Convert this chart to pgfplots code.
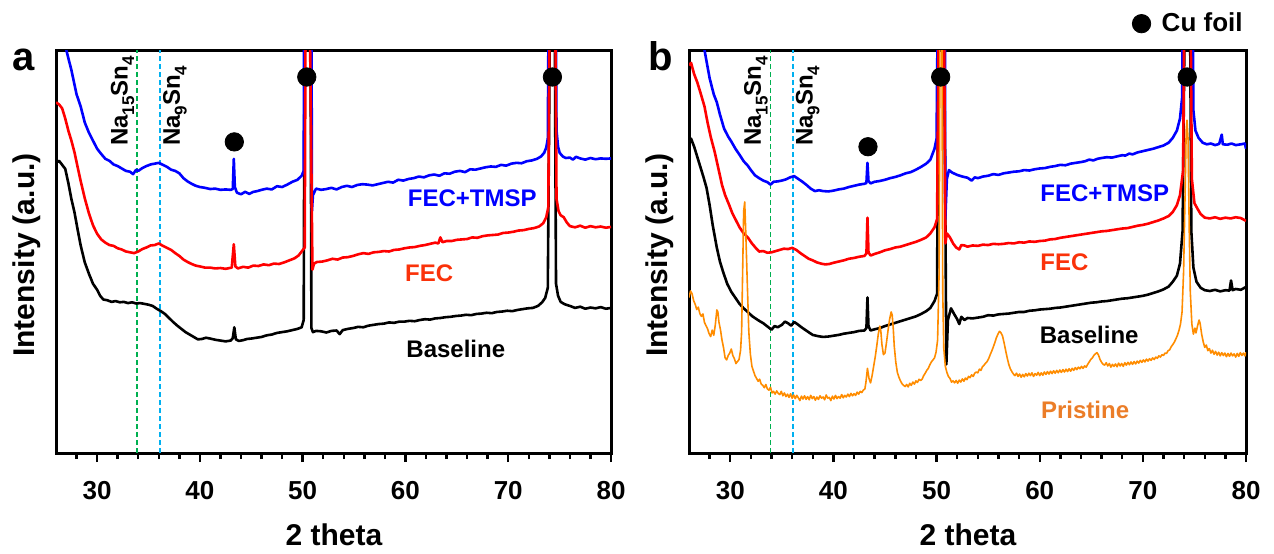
\documentclass[border=0pt]{standalone}
\usepackage{fontspec}
\setmainfont{Liberation Sans}
\usepackage{graphicx}
\usepackage{pgfplots}
\usepackage{pgfplotstable}
\pgfplotsset{compat=1.18}

\definecolor{cblue}{RGB}{0,0,255}
\definecolor{cred}{RGB}{255,0,0}
\definecolor{corange}{RGB}{255,140,0}
\definecolor{lfec}{RGB}{250,50,10}
\definecolor{lpri}{RGB}{235,125,40}
\definecolor{dgreen}{RGB}{0,176,80}
\definecolor{dcyan}{RGB}{0,176,240}

% ---------- panel a ----------
\pgfplotstableread{
x y
26.9 102
27.0 100
27.5 95
28.0 89
28.4 86
28.8 82
29.2 79.5
29.6 77.5
30.0 75.5
30.4 74.2
30.8 73.0
31.2 72.5
31.6 71.6
32.0 71.2
32.4 70.6
32.8 70.0
33.2 69.8
33.5 69.2
33.8 70.3
34.0 70.0
34.4 70.7
34.8 71.2
35.2 71.6
35.6 71.8
36.0 72.0
36.4 71.5
36.8 71.0
37.2 70.3
37.6 70.0
38.0 69.4
38.4 68.2
38.8 67.4
39.2 66.8
39.6 66.3
40.0 66.0
40.5 65.8
41.0 65.5
41.5 65.6
42.0 65.3
42.5 65.4
43.0 65.3
43.2 65.5
43.3 73.0
43.4 66.0
43.6 64.6
44.0 64.2
44.4 64.8
44.8 64.3
45.2 64.8
45.6 65.0
46.0 65.3
46.5 65.6
47.0 65.4
47.5 66.2
48.0 66.0
48.5 66.6
49.0 67.3
49.5 67.8
49.9 68.8
50.1 70
50.15 120
50.85 120
50.9 60
51.0 64
51.3 65.6
51.8 65.3
52.3 65.5
52.8 65.8
53.3 65.4
53.8 66.0
54.3 66.3
54.8 66.0
55.3 66.5
55.8 66.7
56.3 66.6
56.8 66.4
57.3 66.7
57.8 67.0
58.3 67.3
58.8 67.1
59.3 67.8
59.8 67.6
60.3 68.0
60.8 68.2
61.3 68.6
61.8 68.4
62.3 68.9
62.8 69.1
63.3 68.8
63.8 69.4
64.3 69.3
64.8 69.8
65.3 70.0
65.8 69.7
66.3 70.4
66.8 70.3
67.3 70.6
67.8 70.9
68.3 71.1
68.8 71.0
69.3 71.5
69.8 71.3
70.3 71.8
70.8 72.0
71.3 71.9
71.8 72.4
72.3 72.6
72.8 73.0
73.2 73.6
73.5 74.5
73.7 75.8
73.85 78
73.95 120
74.6 120
74.7 80
74.85 76
75.0 74.5
75.3 73.6
75.6 73.2
76.0 73.3
76.3 72.8
76.6 73.5
77.0 73.1
77.5 72.8
78.0 73.2
78.5 72.9
79.0 73.1
79.5 73.0
80.0 73.1
}\ablue

\pgfplotstableread{
x y
26.0 87
26.3 86.5
26.6 85.5
26.9 83
27.2 80
27.5 77.5
27.8 74.6
28.1 71
28.4 67.5
28.8 63.2
29.2 59.5
29.6 56.5
30.0 54.4
30.4 53
30.8 52.2
31.2 51.6
31.6 51.4
32.0 50.8
32.4 50.5
32.8 50.0
33.2 49.8
33.6 49.6
34.0 50.0
34.4 50.6
34.8 51.0
35.2 51.5
35.6 51.6
36.0 52.0
36.4 51.4
36.8 50.9
37.2 50.4
37.6 49.6
38.0 48.9
38.4 48.0
38.8 47.4
39.2 46.9
39.6 46.5
40.0 46.3
40.5 46.0
41.0 46.0
41.5 45.8
42.0 45.9
42.5 45.7
43.1 46.0
43.3 51.8
43.45 46.3
43.7 45.8
44.2 46.2
44.7 46.0
45.2 46.5
45.7 46.4
46.2 46.8
46.7 46.6
47.2 47.0
47.7 46.9
48.2 47.3
48.7 47.8
49.2 48.3
49.6 49.0
49.9 50.0
50.2 51
50.3 120
50.65 120
50.95 45.5
51.1 47.0
51.4 47.4
51.9 47.5
52.4 47.8
52.9 48.2
53.4 48.0
53.9 48.5
54.4 48.6
54.9 48.9
55.4 49.3
55.9 49.6
56.4 49.4
56.9 49.8
57.4 49.9
57.9 50.1
58.4 50.0
58.9 50.4
59.4 50.5
59.9 50.8
60.4 51.0
60.9 51.1
61.4 51.4
61.9 51.6
62.4 51.9
62.9 52.2
63.2 52.0
63.4 53.5
63.6 52.3
64.0 52.6
64.5 52.6
65.0 52.9
65.5 53.0
66.0 53.1
66.5 53.5
67.0 53.4
67.5 53.8
68.0 54.0
68.5 54.1
69.0 54.2
69.5 54.6
70.0 54.7
70.5 54.9
71.0 55.2
71.5 55.3
72.0 55.6
72.5 55.8
73.0 56.2
73.4 57.0
73.7 58.5
73.9 61
74.05 120
74.55 120
74.7 63
74.9 60.0
75.1 59.0
75.4 58.5
75.7 57.2
76.0 56.3
76.5 56.0
77.0 56.4
77.5 55.9
78.0 56.3
78.5 56.0
79.0 56.2
79.5 55.9
80.0 56.1
}\ared

\pgfplotstableread{
x y
26.0 72
26.3 72.5
26.6 71.5
26.9 70.5
27.2 67
27.5 63
27.8 59.7
28.1 55.5
28.4 51.5
28.8 47.3
29.2 44.5
29.6 42.0
30.0 40.5
30.3 39.0
30.6 38.1
31.0 37.9
31.4 37.5
31.8 37.7
32.2 37.4
32.6 37.5
33.0 37.2
33.4 37.4
33.8 37.1
34.2 37.2
34.6 37.0
35.0 36.8
35.4 36.5
35.8 35.8
36.2 35.2
36.6 34.5
37.0 33.5
37.4 32.5
37.8 31.6
38.2 30.8
38.6 30.0
39.0 29.4
39.4 28.8
39.8 28.2
40.2 28.3
40.6 28.6
41.0 28.4
41.5 28.1
42.0 27.9
42.5 27.7
43.0 27.9
43.2 28.5
43.35 31.2
43.5 28.2
43.8 27.8
44.2 28.0
44.6 28.3
45.0 28.4
45.5 28.6
46.0 28.8
46.5 29.2
47.0 29.4
47.5 29.8
48.0 30.0
48.5 30.2
49.0 30.5
49.5 30.8
49.9 31.2
50.1 33
50.2 120
50.75 120
50.85 31
51.0 30.0
51.3 30.3
51.8 30.2
52.3 29.9
52.8 30.3
53.3 30.4
53.6 29.5
53.9 30.5
54.4 30.8
54.9 31.0
55.4 31.3
55.9 31.2
56.4 31.6
56.9 31.8
57.4 32.0
57.9 32.1
58.4 32.4
58.9 32.3
59.4 32.6
59.9 32.6
60.4 32.8
60.9 32.7
61.4 33.0
61.9 33.2
62.4 33.1
62.9 33.4
63.4 33.5
63.9 33.7
64.4 33.8
64.9 34.0
65.4 34.1
65.9 34.3
66.4 34.2
66.9 34.5
67.4 34.6
67.9 34.8
68.4 34.7
68.9 35.0
69.4 35.1
69.9 35.3
70.4 35.2
70.9 35.5
71.4 35.7
71.9 35.9
72.4 36.0
72.9 36.5
73.3 37.4
73.6 38.5
73.85 41
74.1 120
74.5 120
74.65 42
74.85 39
75.1 37.5
75.5 36.9
76.0 36.5
76.5 36.0
77.0 36.3
77.5 35.8
78.0 36.1
78.5 35.9
79.0 36.2
79.5 35.8
80.0 36.0
}\ablack

% ---------- panel b ----------
\pgfplotstableread{
x y
27.4 102
27.5 100
28.0 93
28.4 89
28.7 87
29.0 84
29.4 80.5
29.8 78.5
30.1 77.3
30.5 75.5
30.9 74
31.3 72.4
31.7 71.3
32.0 70.2
32.4 68.9
32.8 68.2
33.2 67.6
33.6 67.2
33.9 66.6
34.2 67.3
34.6 67.4
35.0 67.6
35.4 67.9
35.8 68.4
36.2 68.7
36.6 68.0
37.0 67.3
37.4 66.5
37.8 65.6
38.2 65.0
38.6 65.2
39.0 65.0
39.5 64.9
40.0 65.1
40.5 65.4
41.0 65.6
41.5 66.0
42.0 66.3
42.5 66.6
43.0 66.8
43.2 67.0
43.3 72.0
43.4 67.5
43.6 66.9
44.0 67.3
44.5 67.5
45.0 67.8
45.5 68.2
46.0 68.5
46.5 68.9
47.0 69.4
47.5 69.7
48.0 70.3
48.5 71.0
49.0 71.8
49.4 72.8
49.8 75.5
50.0 78
50.15 120
50.8 120
50.85 58
51.0 68
51.2 70.2
51.5 69.6
52.0 69.0
52.5 68.6
53.0 68.3
53.4 67.6
53.7 68.4
54.0 68.2
54.5 68.6
55.0 68.8
55.5 69.2
56.0 69.0
56.5 69.4
57.0 69.6
57.5 69.8
58.0 69.9
58.5 70.2
59.0 70.1
59.5 70.4
60.0 70.6
60.5 70.7
61.0 71.0
61.5 71.2
62.0 71.5
62.5 71.4
63.0 71.8
63.5 72.0
64.0 72.2
64.4 72.4
64.8 72.8
65.2 72.6
65.6 73.0
66.0 73.2
66.5 73.4
67.0 73.3
67.5 73.6
68.0 73.9
68.3 73.8
68.7 74.3
69.0 74.1
69.5 74.6
70.0 74.9
70.5 75.2
71.0 75.5
71.5 75.9
72.0 76.3
72.5 77.0
72.9 78.2
73.3 80.0
73.6 83
73.8 88
73.92 120
74.8 120
74.9 85
75.1 80
75.4 78.2
75.8 77.0
76.2 76.6
76.6 76.8
77.0 76.4
77.4 76.7
77.65 79.0
77.75 76.6
78.2 76.5
78.6 76.8
79.0 76.4
79.5 76.6
79.9 76.8
80.0 75.5
}\bblue

\pgfplotstableread{
x y
26.0 96.2
26.2 96.8
26.5 94.0
26.8 92
27.1 89.5
27.5 86
27.8 82
28.1 78.5
28.5 74.6
28.9 70
29.2 66.5
29.5 64
29.9 61.5
30.2 59.5
30.5 58
30.9 56.0
31.3 54.5
31.7 53.5
32.1 52
32.5 50.8
32.8 50.0
33.2 50.1
33.6 49.7
34.0 49.8
34.4 50.1
34.8 50.4
35.2 50.7
35.6 50.6
36.0 50.9
36.4 50.4
36.8 49.6
37.2 48.9
37.6 48.2
38.0 47.8
38.4 47.3
38.8 47.0
39.2 46.8
39.6 46.9
40.0 47.2
40.5 47.5
41.0 47.8
41.5 48.2
42.0 48.4
42.5 48.7
43.0 48.9
43.2 49.5
43.3 58.4
43.4 49.8
43.6 49.0
44.0 49.4
44.5 49.8
45.0 50.3
45.5 50.6
46.0 51.0
46.5 51.2
47.0 51.6
47.5 52.0
48.0 52.4
48.5 52.9
49.0 53.5
49.4 54.5
49.8 56.0
50.05 58
50.25 120
50.7 120
50.85 52
51.0 54.5
51.3 53.5
51.6 52.0
51.9 51.0
52.2 50.5
52.4 51.6
52.7 51.5
53.0 51.2
53.5 51.5
54.0 51.4
54.5 51.7
55.0 51.6
55.5 51.9
56.0 51.8
56.5 51.9
57.0 52.1
57.5 52.0
58.0 52.3
58.5 52.2
59.0 52.5
59.5 52.4
60.0 52.6
60.5 52.7
61.0 53.0
61.5 53.1
62.0 53.4
62.5 53.6
63.0 53.8
63.5 54.0
64.0 54.2
64.5 54.4
65.0 54.6
65.5 54.8
66.0 55.0
66.5 55.1
67.0 55.3
67.5 55.5
68.0 55.7
68.5 55.8
69.0 56.1
69.5 56.4
70.0 56.6
70.5 56.9
71.0 57.3
71.5 57.7
72.0 58.2
72.5 58.8
72.9 59.8
73.3 61.5
73.6 64
73.9 70
74.05 120
74.6 120
74.75 68
75.0 62
75.3 60.6
75.6 59.3
76.0 58.4
76.5 58.2
77.0 58.5
77.5 58.1
78.0 58.4
78.5 58.2
79.0 58.5
79.5 58.3
80.0 57.6
}\bred

\pgfplotstableread{
x y
26.0 77.3
26.2 78.0
26.5 76.0
26.8 73.5
27.1 71
27.4 68.5
27.7 65.8
28.0 61.5
28.3 56.5
28.7 50.9
29.0 47.5
29.3 45
29.7 42
30.1 40
30.5 38.5
30.9 37.0
31.3 35.9
31.7 35.0
32.1 34.0
32.5 33.3
32.8 32.8
33.2 32.2
33.6 31.4
34.0 30.6
34.3 31.5
34.6 31.2
35.0 31.8
35.3 32.6
35.6 32.2
35.9 31.6
36.2 32.5
36.5 32.0
36.9 31.2
37.3 30.5
37.7 29.8
38.0 29.3
38.5 29.0
39.0 28.8
39.5 28.9
40.0 29.1
40.5 29.3
41.0 29.6
41.5 29.8
42.0 30.0
42.5 30.3
43.0 30.4
43.2 31.0
43.3 38.6
43.4 31.5
43.6 30.4
44.0 30.7
44.5 31.0
45.0 31.5
45.5 31.9
46.0 32.3
46.5 32.7
47.0 33.1
47.5 33.5
48.0 33.9
48.5 34.5
49.0 35.2
49.4 36.0
49.8 37.7
50.05 39.5
50.2 120
50.75 100
50.95 22
51.1 33
51.4 35.9
51.7 34.5
52.0 33.2
52.2 32.0
52.4 33.8
52.7 33.0
53.0 33.5
53.5 33.4
54.0 33.6
54.5 33.8
55.0 34.2
55.5 34.1
56.0 34.4
56.5 34.5
57.0 34.6
57.5 34.8
58.0 35.0
58.5 35.0
59.0 35.3
59.5 35.4
60.0 35.6
60.5 35.7
61.0 35.8
61.5 36.0
62.0 36.1
62.5 36.3
63.0 36.5
63.5 36.7
64.0 36.9
64.5 37.1
65.0 37.3
65.5 37.4
66.0 37.6
66.5 37.7
67.0 37.9
67.5 38.1
68.0 38.3
68.5 38.4
69.0 38.6
69.5 38.8
70.0 39.0
70.5 39.3
71.0 39.7
71.5 40.1
72.0 40.6
72.5 41.3
72.9 42.5
73.3 44.0
73.6 47
73.85 55
74.1 120
74.55 120
74.7 55
74.9 46
75.2 42.5
75.6 41.0
76.0 40.4
76.5 40.2
77.0 40.5
77.5 40.1
78.0 40.4
78.4 40.3
78.55 42.8
78.7 40.4
79.0 40.7
79.5 40.5
80.0 41.2
}\bblack

\pgfplotstableread{
x y
26.0 38.6
26.15 40.2
26.3 39.5
26.45 37.8
26.6 36.9
26.75 35.6
26.9 36.2
27.05 34.6
27.2 33.9
27.35 34.5
27.5 32.4
27.65 31.6
27.8 30.8
27.95 29.6
28.1 28.9
28.25 30.5
28.4 29.2
28.55 31.8
28.7 35.5
28.8 35.0
28.9 32.5
29.05 30.6
29.2 28.0
29.35 26.1
29.5 23.6
29.65 23.1
29.8 24.2
29.95 24.8
30.1 25.8
30.25 24.2
30.4 23.4
30.55 22.2
30.7 22.7
30.85 23.2
31.0 25.5
31.1 30
31.2 45
31.3 60
31.4 62.3
31.5 55
31.6 46.5
31.7 38
31.8 30
31.95 24.5
32.1 21.5
32.25 20.3
32.4 19.2
32.55 18.5
32.7 17.8
32.85 18.3
33.0 17.1
33.15 16.8
33.3 16.2
33.45 17.0
33.6 15.9
33.75 15.6
33.9 16.3
34.05 14.9
34.2 15.3
34.35 14.6
34.5 15.4
34.65 14.8
34.8 14.5
34.95 15.3
35.1 14.2
35.25 14.9
35.4 14.0
35.55 14.6
35.7 13.8
35.85 14.7
36.0 13.6
36.15 14.4
36.3 13.5
36.45 14.3
36.6 13.7
36.75 13.0
36.9 14.1
37.05 13.4
37.2 14.2
37.35 13.3
37.5 14.0
37.65 13.2
37.8 14.3
37.95 13.5
38.1 14.0
38.25 13.1
38.4 13.9
38.55 13.3
38.7 14.2
38.85 13.6
39.0 13.9
39.15 13.2
39.3 14.4
39.45 13.6
39.6 13.8
39.75 13.0
39.9 14.1
40.05 13.4
40.2 14.3
40.35 13.5
40.5 14.0
40.65 13.6
40.8 14.5
40.95 13.7
41.1 14.3
41.25 13.9
41.4 14.6
41.55 14.0
41.7 14.8
41.85 14.2
42.0 14.7
42.15 14.3
42.3 15.1
42.45 14.6
42.6 15.3
42.75 15.0
42.9 15.6
43.05 15.9
43.15 17.5
43.3 21.0
43.45 18.5
43.6 17.4
43.75 19.2
43.9 21.5
44.05 23.8
44.2 26.5
44.35 29.5
44.5 31.5
44.6 30.2
44.7 27.0
44.85 24.4
45.0 24.8
45.15 27.5
45.3 30.5
45.45 33.2
45.6 35.0
45.7 34.2
45.8 31.0
45.9 26.5
46.05 22.5
46.2 20.0
46.35 18.8
46.5 17.9
46.65 17.2
46.8 16.8
46.95 16.5
47.1 17.0
47.25 16.4
47.4 17.3
47.55 16.8
47.7 17.6
47.85 17.1
48.0 17.9
48.15 17.5
48.3 18.3
48.45 18.0
48.6 18.3
48.75 19.2
48.9 19.8
49.05 20.5
49.2 21.0
49.35 21.9
49.5 22.6
49.65 23.1
49.8 23.6
49.95 25.0
50.1 28
50.25 45
50.35 120
50.5 120
50.6 40
50.7 26
50.85 21.5
51.0 20.0
51.15 19.0
51.3 18.5
51.45 17.6
51.6 17.9
51.75 17.4
51.9 18.0
52.05 17.3
52.2 18.1
52.35 17.6
52.5 18.4
52.65 17.8
52.8 18.6
52.95 18.2
53.1 19.0
53.25 18.7
53.4 19.4
53.55 19.0
53.7 19.8
53.85 20.1
54.0 19.9
54.15 20.8
54.3 20.5
54.45 21.4
54.6 21.8
54.75 22.3
54.9 22.7
55.05 23.4
55.2 24.4
55.35 25.3
55.5 26.3
55.65 27.4
55.8 28.6
55.95 29.5
56.1 30.2
56.25 29.8
56.4 29.0
56.55 27.3
56.7 25.4
56.85 23.6
57.0 22.0
57.15 20.9
57.3 20.2
57.45 19.6
57.6 19.2
57.75 19.8
57.9 19.0
58.05 19.6
58.2 18.8
58.35 19.5
58.5 18.9
58.65 19.7
58.8 19.1
58.95 19.8
59.1 19.2
59.25 19.9
59.4 19.0
59.55 19.7
59.7 19.3
59.85 20.0
60.0 19.2
60.15 19.9
60.3 19.3
60.45 20.1
60.6 19.5
60.75 20.2
60.9 19.6
61.05 20.3
61.2 19.7
61.35 20.4
61.5 19.8
61.65 20.5
61.8 19.9
61.95 20.6
62.1 20.0
62.25 20.7
62.4 20.1
62.55 20.8
62.7 20.2
62.85 20.9
63.0 20.3
63.15 21.0
63.3 20.5
63.45 21.2
63.6 20.7
63.75 21.3
63.9 20.9
64.05 21.5
64.2 21.0
64.35 21.6
64.5 21.3
64.65 22.0
64.8 22.6
64.95 23.2
65.1 23.6
65.25 24.2
65.4 24.6
65.55 24.9
65.7 24.3
65.85 23.2
66.0 22.5
66.15 22.0
66.3 21.8
66.45 22.4
66.6 21.6
66.75 22.2
66.9 21.3
67.05 22.0
67.2 21.5
67.35 22.1
67.5 21.4
67.65 22.3
67.8 21.6
67.95 22.2
68.1 21.5
68.25 22.4
68.4 21.8
68.55 22.5
68.7 21.9
68.85 22.6
69.0 22.0
69.15 22.7
69.3 22.1
69.45 22.8
69.6 22.3
69.75 23.0
69.9 22.5
70.05 23.1
70.2 22.6
70.35 23.3
70.5 22.8
70.65 23.4
70.8 23.0
70.95 23.6
71.1 23.2
71.25 23.8
71.4 23.5
71.55 24.1
71.7 23.8
71.85 24.4
72.0 24.2
72.15 24.8
72.3 24.7
72.45 25.4
72.6 25.6
72.75 26.4
72.9 26.9
73.05 27.5
73.2 28.3
73.35 29.2
73.5 30.4
73.65 32.0
73.8 35
73.95 45
74.1 65
74.2 80
74.28 82.6
74.38 78
74.5 55
74.6 40
74.75 32
74.9 29.5
75.05 31.0
75.15 29.8
75.3 31.5
75.45 33.0
75.55 32.2
75.7 29.5
75.85 27.6
76.0 26.2
76.15 26.8
76.3 25.4
76.45 25.9
76.6 24.8
76.75 25.5
76.9 24.5
77.05 25.2
77.2 24.3
77.35 25.0
77.5 24.1
77.65 24.9
77.8 24.2
77.95 24.8
78.1 23.9
78.25 24.7
78.4 24.0
78.55 24.8
78.7 24.1
78.85 24.6
79.0 23.8
79.15 24.7
79.3 24.0
79.45 24.9
79.6 24.2
79.75 24.8
79.9 24.1
80.0 25.0
}\bpristine

\pgfplotsset{
  xrd/.style={
    scale only axis, height=201.5pt,
    xmin=26, xmax=80, ymin=0, ymax=100,
    axis line style={line width=1.5pt},
    xtick={30,40,...,80}, minor xtick={28,30,...,80},
    ytick=\empty, xtick pos=bottom,
    tick align=outside, major tick length=4.5pt, minor tick length=3pt,
    every tick/.style={black, line width=1.2pt},
    /pgf/number format/assume math mode=true,
    xticklabel style={font=\fontsize{13}{15}\selectfont\bfseries, yshift=-6pt},
    curve/.style={line width=1.3pt, line join=round},
    vline/.style={line width=0.9pt, dash pattern=on 2.5pt off 1.5pt},
  },
}
\newcommand{\sub}[1]{\raisebox{-0.28em}{\fontsize{8.5}{9}\selectfont #1}}
\newcommand{\phaseA}{Na\sub{15}Sn\sub{4}}
\newcommand{\phaseB}{Na\sub{9}Sn\sub{4}}

\begin{document}
\begin{tikzpicture}
\path[use as bounding box] (0,0) rectangle (637pt,276.5pt);

% ===== Panel a =====
\begin{axis}[xrd, at={(28pt,50pt)}, anchor=south west, width=277.5pt]
\addplot[vline, dgreen] coordinates {(33.9,0) (33.9,100)};
\addplot[vline, dcyan] coordinates {(36.15,0) (36.15,100)};
\addplot[curve, black] table[x=x,y=y] {\ablack};
\addplot[curve, cblue] table[x=x,y=y] {\ablue};
\addplot[curve, cred] table[x=x,y=y] {\ared};
\addplot[only marks, mark=*, mark size=4.6pt, black] coordinates {(50.4,93.3) (74.3,93.3) (43.35,77.2)};
\coordinate (na15a) at (axis cs:33.9,75.5);
\coordinate (na9a) at (axis cs:36.15,75.5);
\node[cblue, font=\fontsize{12}{14}\selectfont\bfseries] at (axis cs:66.5,63.2) {FEC+TMSP};
\node[lfec, font=\fontsize{12}{14}\selectfont\bfseries] at (axis cs:62.3,44.7) {FEC};
\node[black, font=\fontsize{12}{14}\selectfont\bfseries] at (axis cs:64.9,25.8) {Baseline};
\end{axis}

% ===== Panel b =====
\begin{axis}[xrd, at={(344.5pt,50pt)}, anchor=south west, width=278.5pt,
  legend style={at={(1,1)}, anchor=south east, draw=none, fill=none,
    font=\fontsize{13}{15}\selectfont\bfseries, yshift=6pt, inner sep=0pt,
    nodes={inner sep=1.5pt}},
  legend cell align=left]
\addplot[vline, dgreen, forget plot] coordinates {(33.9,0) (33.9,100)};
\addplot[vline, dcyan, forget plot] coordinates {(36.1,0) (36.1,100)};
\addplot[curve, black, forget plot] table[x=x,y=y] {\bblack};
\addplot[curve, cblue, forget plot] table[x=x,y=y] {\bblue};
\addplot[curve, cred, forget plot] table[x=x,y=y] {\bred};
\addplot[line width=0.8pt, corange, line join=round, forget plot] table[x=x,y=y] {\bpristine};
\addplot[only marks, mark=*, mark size=4.6pt, black] coordinates {(50.4,93.3) (74.3,93.3) (43.35,76.0)};
\addlegendentry{\hspace{4pt}Cu foil}
\coordinate (na15b) at (axis cs:33.9,75.5);
\coordinate (na9b) at (axis cs:36.1,75.5);
\node[cblue, font=\fontsize{12}{14}\selectfont\bfseries] at (axis cs:66.3,64.5) {FEC+TMSP};
\node[lfec, font=\fontsize{12}{14}\selectfont\bfseries] at (axis cs:62.4,47.4) {FEC};
\node[black, font=\fontsize{12}{14}\selectfont\bfseries] at (axis cs:64.8,29.3) {Baseline};
\node[lpri, font=\fontsize{12}{14}\selectfont\bfseries] at (axis cs:64.4,10.8) {Pristine};
\end{axis}

% ===== rotated phase labels =====
\begin{scope}[every node/.style={font=\fontsize{12}{14}\selectfont\bfseries, inner sep=1.2pt}]
\node[rotate=90, anchor=south west] at (na15a) {\phaseA};
\node[rotate=90, anchor=north west] at (na9a) {\phaseB};
\node[rotate=90, anchor=south west] at (na15b) {\phaseA};
\node[rotate=90, anchor=north west] at (na9b) {\phaseB};
\end{scope}

% ===== outer labels =====
\node[anchor=base west, inner sep=0pt, font=\fontsize{20}{22}\selectfont\bfseries] at (6pt,241pt) {a};
\node[anchor=base west, inner sep=0pt, font=\fontsize{20}{22}\selectfont\bfseries] at (324pt,241pt) {b};
\node[rotate=90, font=\fontsize{15}{17}\selectfont\bfseries] at (13.5pt,149pt) {Intensity (a.u.)};
\node[rotate=90, font=\fontsize{15}{17}\selectfont\bfseries] at (330pt,149pt) {Intensity (a.u.)};
\node[font=\fontsize{15}{17}\selectfont\bfseries] at (167pt,9pt) {2 theta};
\node[font=\fontsize{15}{17}\selectfont\bfseries] at (484pt,9pt) {2 theta};
\end{tikzpicture}
\end{document}
